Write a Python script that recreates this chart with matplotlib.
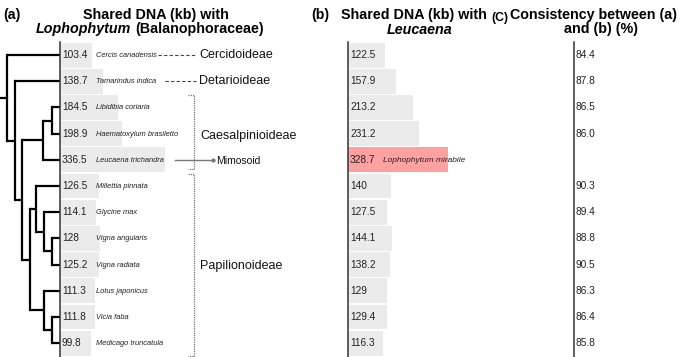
import matplotlib
matplotlib.use('Agg')
import matplotlib.pyplot as plt

plt.rcParams['font.family'] = ['Liberation Sans', 'DejaVu Sans']

# ---------------- data ----------------
species = ["Cercis canadensis", "Tamarindus indica", "Libidibia coriaria",
           "Haematoxylum brasiletto", "Leucaena trichandra", "Millettia pinnata",
           "Glycine max", "Vigna angularis", "Vigna radiata", "Lotus japonicus",
           "Vicia faba", "Medicago truncatula"]
shared_loph = [103.4, 138.7, 184.5, 198.9, 336.5, 126.5, 114.1, 128, 125.2, 111.3, 111.8, 99.8]
loph_labels = ["103.4", "138.7", "184.5", "198.9", "336.5", "126.5", "114.1", "128",
               "125.2", "111.3", "111.8", "99.8"]
shared_leuc = [122.5, 157.9, 213.2, 231.2, 328.7, 140, 127.5, 144.1, 138.2, 129, 129.4, 116.3]
leuc_labels = ["122.5", "157.9", "213.2", "231.2", "328.7", "140", "127.5", "144.1",
               "138.2", "129", "129.4", "116.3"]
consistency = ["84.4", "87.8", "86.5", "86.0", "", "90.3", "89.4", "88.8", "90.5",
               "86.3", "86.4", "85.8"]
highlight_row = 4
highlight_label = "Lophophytum mirabile"

# tree: (node depth, [children]); int = leaf row
tree = (7, [0, (15, [1, (22, [
    (43, [(52, [2, 3]), 4]),
    (30, [(36, [5, (44, [6, (52, [7, 8])])]), (44, [9, (52, [10, 11])])])
])])])
leaf_depth = 60

# ---------------- layout ----------------
W, H = 685, 357
fig = plt.figure(figsize=(W / 100, H / 100), dpi=100)

def fx(px):
    return px / W

def fy(py):
    return 1 - py / H

row_top, row_bot = 42, 357
n = len(species)
ylim = (11.53, -0.5)
bottom = fy(row_bot)
height = (row_bot - row_top) / H

S_A = 0.312  # px per kb, panel a
S_B = 0.305  # px per kb, panel b
A_LEFT, B_LEFT, C_LEFT = 60, 348, 574

bar_col = '#ebebeb'
hi_col = '#ffa1a1'
spine_col = '#333333'

# ---------------- tree ----------------
axt = fig.add_axes([0, bottom, fx(A_LEFT), height])
axt.set_xlim(0, 60)
axt.set_ylim(*ylim)
axt.axis('off')

def draw(node):
    if isinstance(node, int):
        return leaf_depth, node
    x, kids = node
    ys = []
    for k in kids:
        kx, ky = draw(k)
        axt.plot([x, kx], [ky, ky], color='black', lw=1.6, solid_capstyle='butt', clip_on=False)
        ys.append(ky)
    axt.plot([x, x], [min(ys), max(ys)], color='black', lw=1.6, solid_capstyle='projecting', clip_on=False)
    return x, sum(ys) / len(ys)

rx, ry = draw(tree)
axt.plot([0, rx], [ry, ry], color='black', lw=1.6, clip_on=False)

# ---------------- panel a ----------------
axa = fig.add_axes([fx(A_LEFT), bottom, fx(280), height])
axa.set_xlim(0, 280 / S_A)
axa.set_ylim(*ylim)
rows = list(range(n))
axa.barh(rows, shared_loph, height=0.95, color=bar_col, zorder=1)
for s in ['top', 'right', 'bottom']:
    axa.spines[s].set_visible(False)
axa.spines['left'].set_color(spine_col)
axa.spines['left'].set_linewidth(1.1)
axa.set_xticks([]); axa.set_yticks([])
axa.patch.set_alpha(0)

def a(px):
    return (px - A_LEFT) / S_A

for i in rows:
    axa.text(a(62), i, loph_labels[i], fontsize=7.3, va='center', ha='left', color='#222222')
    axa.text(a(96), i + 0.02, species[i], fontsize=5.4, style='italic', va='center', ha='left', color='#222222')

dash_kw = dict(color='#444444', lw=0.8, linestyle=(0, (3, 2)))
axa.plot([a(158), a(196)], [0, 0], **dash_kw)
axa.plot([a(165), a(196)], [1, 1], **dash_kw)
grp_kw = dict(fontsize=9, va='center', ha='left', color='#111111')
axa.text(a(199), 0, "Cercidoideae", **grp_kw)
axa.text(a(199), 1, "Detarioideae", **grp_kw)
axa.text(a(200), 3.1, "Caesalpinioideae", **grp_kw)
axa.text(a(200), 8.05, "Papilionoideae", **grp_kw)
axa.text(a(216), 4.05, "Mimosoid", fontsize=7.5, va='center', ha='left', color='#111111')
axa.plot([a(175), a(213)], [4, 4], color='#777777', lw=1.0, marker='o', markevery=[1], ms=2)

br_kw = dict(color='#777777', lw=0.9, linestyle=(0, (1, 0.8)), clip_on=False)
for y0, y1 in [(1.52, 4.35), (4.55, 11.5)]:
    axa.plot([a(188), a(194), a(194), a(188)], [y0, y0, y1, y1], **br_kw)

# ---------------- panel b ----------------
axb = fig.add_axes([fx(B_LEFT), bottom, fx(C_LEFT - B_LEFT), height])
axb.set_xlim(0, (C_LEFT - B_LEFT) / S_B)
axb.set_ylim(*ylim)
cols = [hi_col if i == highlight_row else bar_col for i in rows]
axb.barh(rows, shared_leuc, height=0.95, color=cols, zorder=1)
for s in ['top', 'right', 'bottom']:
    axb.spines[s].set_visible(False)
axb.spines['left'].set_color(spine_col)
axb.spines['left'].set_linewidth(1.1)
axb.set_xticks([]); axb.set_yticks([])
axb.patch.set_alpha(0)
for i in rows:
    axb.text(2 / S_B, i, leuc_labels[i], fontsize=7.3, va='center', ha='left', color='#222222')
axb.text(35 / S_B, highlight_row + 0.02, highlight_label, fontsize=6, style='italic',
         va='center', ha='left', color='#222222')

# ---------------- panel c ----------------
axc = fig.add_axes([fx(C_LEFT), bottom, fx(W - C_LEFT), height])
axc.set_xlim(0, W - C_LEFT)
axc.set_ylim(*ylim)
for s in ['top', 'right', 'bottom']:
    axc.spines[s].set_visible(False)
axc.spines['left'].set_color(spine_col)
axc.spines['left'].set_linewidth(1.1)
axc.set_xticks([]); axc.set_yticks([])
axc.patch.set_alpha(0)
for i in rows:
    axc.text(2, i, consistency[i], fontsize=7.3, va='center', ha='left', color='#222222')

# ---------------- titles ----------------
TS = 10.3
fig.text(fx(3), fy(19.5), "(a)", fontsize=10.2, fontweight='bold', va='baseline', ha='left')
fig.text(fx(311), fy(19.5), "(b)", fontsize=10.2, fontweight='bold', va='baseline', ha='left')
fig.text(fx(491), fy(20.5), "(C)", fontsize=8.8, fontweight='bold', va='baseline', ha='left')

fig.text(fx(156), fy(18.5), "Shared DNA (kb) with", fontsize=TS, fontweight='bold', va='baseline', ha='center')
fig.text(fx(413.5), fy(18.5), "Shared DNA (kb) with", fontsize=TS, fontweight='bold', va='baseline', ha='center')
fig.text(fx(420), fy(33.5), "Leucaena", fontsize=TS, fontweight='bold', style='italic', va='baseline', ha='center')
fig.text(fx(594), fy(18.5), "Consistency between (a)", fontsize=TS, fontweight='bold', va='baseline', ha='center')
fig.text(fx(601.5), fy(33.5), "and (b) (%)", fontsize=TS, fontweight='bold', va='baseline', ha='center')

renderer = fig.canvas.get_renderer()
t1 = fig.text(0, fy(33.5), "Lophophytum", fontsize=TS, fontweight='bold', style='italic', va='baseline', ha='left')
t2 = fig.text(0, fy(33.5), "(Balanophoraceae)", fontsize=TS, fontweight='bold', va='baseline', ha='left')
w1 = t1.get_window_extent(renderer).width
w2 = t2.get_window_extent(renderer).width
gap = 0.278 * TS * 100 / 72
start = 150 - (w1 + gap + w2) / 2
t1.set_x(fx(start))
t2.set_x(fx(start + w1 + gap))

fig.savefig('out.png', dpi=100)
